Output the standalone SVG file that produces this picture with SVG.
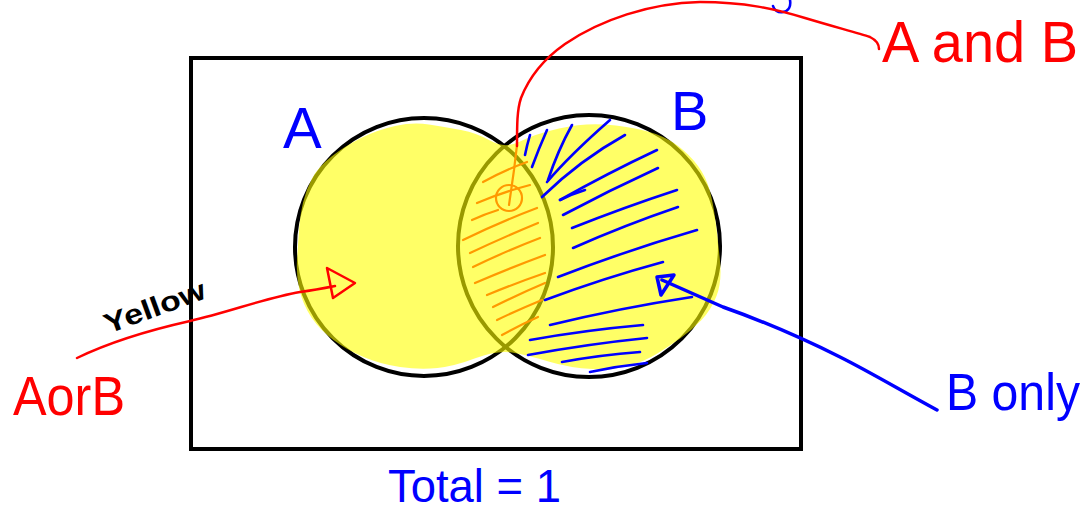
<svg xmlns="http://www.w3.org/2000/svg" width="1090" height="514" viewBox="0 0 1090 514">
<style>
.frame{fill:none;stroke:#000;stroke-width:4}
.ring{fill:none;stroke:#000;stroke-width:4}
.blue{fill:none;stroke:#0000ff;stroke-width:2.6;stroke-linecap:round;stroke-linejoin:round}
.orange{fill:none;stroke:#ff9900;stroke-width:2.2;stroke-linecap:round;stroke-linejoin:round}
.red{fill:none;stroke:#ff0000;stroke-width:2.5;stroke-linecap:round;stroke-linejoin:round}
.bluearrow{fill:none;stroke:#0000ff;stroke-width:3.5;stroke-linecap:round;stroke-linejoin:round}
.hand{font-family:"Liberation Sans",Arial,sans-serif}
</style>
<rect width="1090" height="514" fill="#fff"/>
<g id="top-fragment">
<path class="blue" stroke-width="3" d="M790,0 C791,6 789,11 783,12 C778,13 774,10 773,6"/>
</g>
<g id="universe">
<rect class="frame" x="191" y="58" width="610" height="391"/>
<text class="hand" x="388" y="502" font-size="46" fill="#0000ff" textLength="173" lengthAdjust="spacingAndGlyphs">Total = 1</text>
</g>
<g id="setA">
<circle class="ring" cx="424" cy="247" r="129"/>
<text class="hand" x="283" y="148" font-size="58" fill="#0000ff">A</text>
</g>
<g id="setB">
<circle class="ring" cx="589" cy="246" r="131"/>
<text class="hand" x="671" y="130" font-size="56" fill="#0000ff">B</text>
</g>
<g id="yellow-highlight" opacity="0.6">
<path fill="#ffff00" d="M429,124.5 Q445,127 461,130 Q477,133 491,141 Q505,149 520,141.5 Q535,134 559,128.5 Q583,123 605,124.5 Q627,126 646,131 Q665,136 677.5,145.5 Q690,155 698,166 Q706,177 709.5,189.5 Q713,202 715.5,221 Q718,240 720,261 Q722,282 716.5,296 Q711,310 701.5,320 Q692,330 680,338.5 Q668,347 656.5,354 Q645,361 630,365.5 Q615,370 592.5,369 Q570,368 548.5,361.5 Q527,355 512,352.5 Q497,350 476,358 Q455,366 437.5,368 Q420,370 400,367 Q380,364 363.5,357 Q347,350 333.5,340 Q320,330 311.5,317.5 Q303,305 299.5,290 Q296,275 297,260 Q298,245 299,230 Q300,215 303,202.5 Q306,190 312,178.5 Q318,167 331.5,156.5 Q345,146 361,138 Q377,130 395,126 Q413,122 429,124.5 Z"/>
</g>
<g id="lens-hatching" class="orange">
<path d="M483,182 Q505,170 527,162"/>
<path d="M477,203 Q503,192 530,185"/>
<path d="M472,220 Q485,214 498,210"/>
<path d="M463,240 Q500,222 537,208"/>
<path d="M470,253 Q504,237 538,223"/>
<path d="M473,267 Q506,251 540,238"/>
<path d="M475,283 Q510,268 545,255"/>
<path d="M487,295 Q516,283 545,273"/>
<path d="M493,307 Q519,294 545,283"/>
<path d="M497,320 Q520,309 542,300"/>
<path d="M502,335 Q520,325 538,317"/>
</g>
<g id="b-only-hatching" class="blue">
<path d="M525,155 Q527,145 530,135"/>
<path d="M532,167 Q539,148 547,130"/>
<path d="M548,180 Q558,150 572,125"/>
<path d="M547,182 Q570,155 610,120"/>
<path d="M542,197 Q580,160 625,135"/>
<path d="M560,200 Q572,194 585,190"/>
<path d="M560,200 Q608,173 657,150"/>
<path d="M563,215 Q610,190 658,168"/>
<path d="M572,228 Q625,207 677,190"/>
<path d="M573,248 Q625,225 678,207"/>
<path d="M558,277 Q628,250 697,230"/>
<path d="M545,300 Q604,278 663,262"/>
<path d="M550,325 Q620,308 692,297"/>
<path d="M530,340 Q586,330 643,325"/>
<path d="M528,355 Q588,344 647,338"/>
<path d="M562,362 Q600,355 640,352"/>
<path d="M590,372 Q618,366 647,363"/>
</g>
<g id="connectors">
<path class="orange" stroke-width="2.5" d="M517,145 L514,170 L509,205"/>
<circle class="orange" stroke-width="3" cx="509" cy="198" r="13"/>
<path class="red" d="M517,146 C517,125 517,110 521,98 C530,75 545,58 565,44 C600,20 650,3 700,2 C745,2 775,9 805,18 C835,27 858,33 870,37 C876,40 879,45 879,49"/>
<path class="red" d="M77,358 C110,342 150,330 190,321 C230,312 265,298 300,292 C315,290 325,288 335,286"/>
<path class="red" stroke-width="3" d="M327,268 L355,283 L333,298 Z"/>
<path class="bluearrow" d="M937,410 C900,390 870,372 840,357 C800,337 760,320 723,307 C700,297 680,288 662,280"/>
<path class="bluearrow" stroke-width="3" d="M657,277 L674,275 L661,295 Z"/>
</g>
<g id="labels" class="hand">
<text x="0" y="0" font-size="28" fill="#000" font-weight="bold" transform="translate(108,334) rotate(-20)" textLength="106" lengthAdjust="spacingAndGlyphs">Yellow</text>
<text x="13" y="415" font-size="56" fill="#ff0000" textLength="112" lengthAdjust="spacingAndGlyphs">AorB</text>
<text x="882" y="62" font-size="58" fill="#ff0000" textLength="196" lengthAdjust="spacingAndGlyphs">A and B</text>
<text x="946" y="410" font-size="52" fill="#0000ff" textLength="134" lengthAdjust="spacingAndGlyphs">B only</text>
</g>
</svg>
